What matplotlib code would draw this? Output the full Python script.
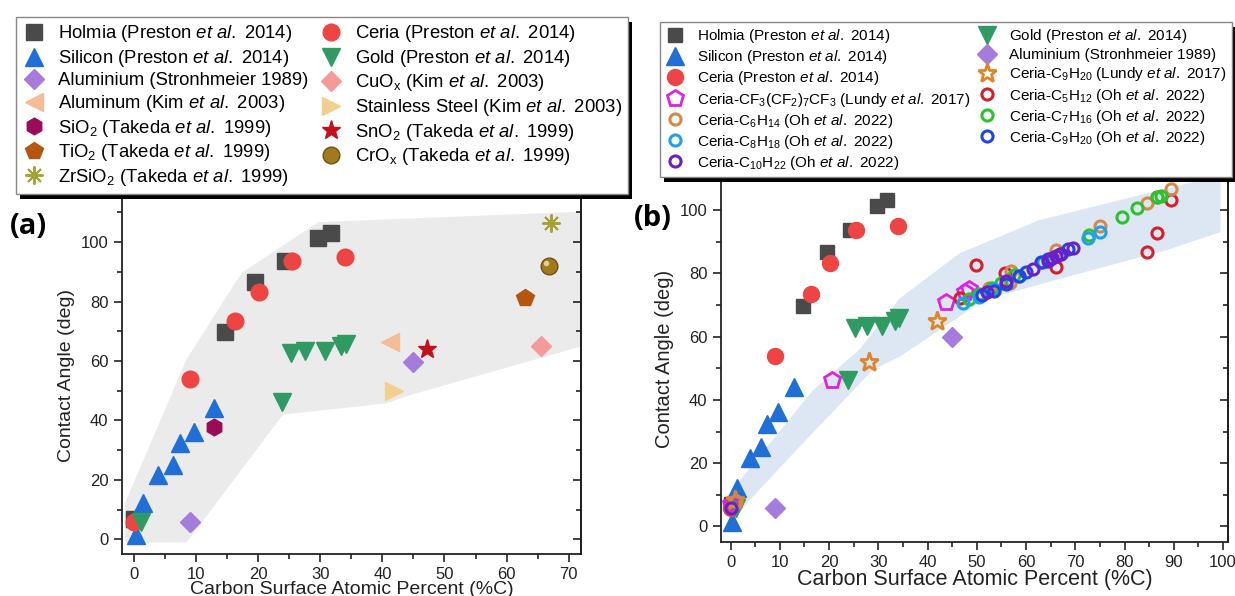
import matplotlib as mpl
mpl.use('Agg')
import matplotlib.pyplot as plt
from matplotlib.patches import Rectangle
from matplotlib.transforms import ScaledTranslation

plt.rcParams['font.family'] = ['Liberation Sans', 'DejaVu Sans']
plt.rcParams['mathtext.fontset'] = 'custom'
plt.rcParams['mathtext.rm'] = 'Liberation Sans'
plt.rcParams['mathtext.it'] = 'Liberation Sans:italic'
plt.rcParams['mathtext.bf'] = 'Liberation Sans:bold'
plt.rcParams['mathtext.default'] = 'regular'

# ---- data (x = carbon %, y = contact angle) ----
holmia_x = [0, 14.7, 19.5, 24.3, 29.7, 31.8]
holmia_y = [7.0, 69.6, 86.7, 93.7, 101.3, 103.0]
ceria_x = [0, 9.0, 16.3, 20.1, 25.4, 33.9]
ceria_y = [5.9, 54.0, 73.3, 83.2, 93.8, 94.9]
silicon_x = [0.3, 1.4, 3.9, 6.2, 7.4, 9.7, 12.8]
silicon_y = [1.4, 12.1, 21.6, 25.0, 32.3, 36.2, 44.1]
gold_x = [1.1, 23.8, 25.2, 27.6, 30.8, 33.3, 34.2]
gold_y = [5.9, 46.3, 62.8, 63.2, 63.5, 65.0, 65.8]
alu_strohm_x = [9.0, 45.0]
alu_strohm_y = [5.9, 59.8]
alu_kim_x = [41.3]
alu_kim_y = [66.5]
steel_x = [41.8]
steel_y = [49.9]
sno2_x = [47.2]
sno2_y = [64.0]
cuox_x = [65.6]
cuox_y = [64.9]
tio2_x = [62.9]
tio2_y = [81.3]
crox_x = [66.8]
crox_y = [92.0]
zrsio2_x = [67.2]
zrsio2_y = [106.4]
sio2_x = [12.9]
sio2_y = [37.9]

lundy_cf_x = [0, 20.6, 43.8, 47.5, 48.5]
lundy_cf_y = [7.2, 46.3, 71.0, 74.2, 75.0]
lundy_c9_x = [0.8, 28.1, 41.9]
lundy_c9_y = [8.4, 52.1, 65.0]
oh_c5_x = [46.5, 49.8, 55.7, 66.0, 84.6, 86.6, 89.4]
oh_c5_y = [72.3, 82.6, 80.2, 82.0, 86.8, 92.6, 103.0]
oh_c6_x = [1.0, 52.5, 56.7, 57.0, 66.0, 75.0, 84.6, 86.6, 89.4]
oh_c6_y = [8.0, 75.5, 77.0, 80.8, 87.4, 94.9, 102.1, 104.0, 106.6]
oh_c7_x = [48.5, 50.5, 53.0, 55.0, 57.5, 72.8, 79.5, 82.6, 86.5, 87.4]
oh_c7_y = [72.0, 73.5, 75.5, 77.0, 79.5, 92.0, 97.8, 100.5, 104.0, 104.4]
oh_c8_x = [47.2, 50.5, 53.5, 58.5, 63.5, 72.6, 75.0]
oh_c8_y = [70.5, 72.5, 75.0, 79.0, 83.5, 91.2, 93.2]
oh_c9_x = [51.0, 53.5, 56.0, 58.5, 60.0, 63.0, 64.5, 67.0, 68.6]
oh_c9_y = [73.0, 74.5, 76.5, 79.0, 80.5, 83.5, 84.5, 86.2, 87.8]
oh_c10_x = [0, 52.0, 56.0, 61.5, 64.5, 65.3, 66.0, 66.8, 69.5]
oh_c10_y = [5.8, 74.0, 77.5, 81.5, 84.0, 84.8, 85.4, 86.2, 88.0]

# shaded envelopes
band_a_x = [-1.5, 8.5, 24.0, 40.5, 44.6, 72.5, 72.5, 29.7, 17.3, 8.4, -1.5]
band_a_y = [-1.0, -1.0, 42.0, 45.7, 48.6, 65.2, 110.3, 106.7, 89.6, 60.4, 12.0]
band_b_x = [-1.0, 16.7, 26.2, 34.3, 46.5, 62.7, 99.5, 99.5, 88.5, 68.2, 51.2,
            46.5, 34.3, 28.9, 14.0, 3.9, 0.5]
band_b_y = [9.0, 43.0, 56.0, 72.0, 86.3, 96.8, 111.0, 93.0, 87.3, 78.8, 71.5,
            66.3, 53.6, 49.5, 25.2, 8.4, 1.5]

ETAL = r'$\mathit{et\ al.}$'

fig = plt.figure(figsize=(12.35, 5.96), dpi=100)
ax_a = fig.add_axes([0.0985, 0.0701, 0.3720, 0.5985])
ax_b = fig.add_axes([0.5836, 0.0901, 0.4107, 0.6160])


def style_axes(ax, xlim, ylim, lab_fs, tick_fs, xlab_fs):
    ax.set_xlim(*xlim)
    ax.set_ylim(*ylim)
    ax.set_xticks(range(0, int(xlim[1]) + 1, 10))
    ax.set_xticks(range(5, int(xlim[1]) + 1, 10), minor=True)
    ax.set_yticks(range(0, 101, 20))
    ax.set_yticks(range(10, int(ylim[1]) + 1, 20), minor=True)
    ax.tick_params(which='major', direction='out', length=6, width=1.2,
                   labelsize=tick_fs, color='#222222', labelcolor='#222222')
    ax.tick_params(which='minor', direction='out', length=3.5, width=1.2,
                   color='#222222')
    for s in ax.spines.values():
        s.set_linewidth(1.3)
        s.set_color('#222222')
    ax.set_xlabel('Carbon Surface Atomic Percent (%C)', fontsize=xlab_fs,
                  labelpad=-1, color='#222222')
    ax.set_ylabel('Contact Angle (deg)', fontsize=lab_fs, labelpad=4,
                  color='#222222')
    sec = ax.secondary_yaxis('right')
    sec.set_yticks(range(0, 101, 20))
    sec.set_yticks(range(10, int(ylim[1]) + 1, 10), minor=True)
    sec.tick_params(which='both', direction='in', labelright=False,
                    width=1.2, color='#222222')
    sec.tick_params(which='major', length=6)
    sec.tick_params(which='minor', length=3.5)
    sec.spines['right'].set_linewidth(1.3)


# ---------------- panel (a) ----------------
ax = ax_a
ax.fill(band_a_x, band_a_y, color='#EBEBEB', lw=0, zorder=0)
h_holmia, = ax.plot(holmia_x, holmia_y, 's', color='#4A4A4A', ms=11,
                    label='Holmia (Preston ' + ETAL + ' 2014)')
h_si, = ax.plot(silicon_x, silicon_y, '^', color='#1F6FD6', ms=13,
                label='Silicon (Preston ' + ETAL + ' 2014)')
h_alu, = ax.plot(alu_strohm_x, alu_strohm_y, 'D', color='#A57BDB', ms=10,
                 label='Aluminium (Stronhmeier 1989)')
h_alk, = ax.plot(alu_kim_x, alu_kim_y, '<', color='#F4BD97', ms=13,
                 label='Aluminum (Kim ' + ETAL + ' 2003)')
h_sio2, = ax.plot(sio2_x, sio2_y, 'h', color='#9A0C58', ms=12,
                  label='SiO$_2$ (Takeda ' + ETAL + ' 1999)')
h_tio2, = ax.plot(tio2_x, tio2_y, 'p', color='#B4560F', ms=13,
                  label='TiO$_2$ (Takeda ' + ETAL + ' 1999)')
h_zr, = ax.plot(zrsio2_x, zrsio2_y, marker=(8, 2, 0), ls='none',
                color='#A4A232', ms=13, mew=1.4,
                label='ZrSiO$_2$ (Takeda ' + ETAL + ' 1999)')
h_ceria, = ax.plot(ceria_x, ceria_y, 'o', color='#EE4444', ms=12,
                   label='Ceria (Preston ' + ETAL + ' 2014)')
h_gold, = ax.plot(gold_x, gold_y, 'v', color='#2F9B62', ms=13,
                  label='Gold (Preston ' + ETAL + ' 2014)')
h_cuox, = ax.plot(cuox_x, cuox_y, 'D', color='#F49A9A', ms=10,
                  label='CuO$_x$ (Kim ' + ETAL + ' 2003)')
h_steel, = ax.plot(steel_x, steel_y, '>', color='#F2CF8E', ms=13,
                   label='Stainless Steel (Kim ' + ETAL + ' 2003)')
h_sno2, = ax.plot(sno2_x, sno2_y, '*', color='#C2101C', ms=14,
                  label='SnO$_2$ (Takeda ' + ETAL + ' 1999)')
h_crox, = ax.plot(crox_x, crox_y, 'o', color='#A07A1C', mec='#6E520E',
                  ms=12, label='CrO$_x$ (Takeda ' + ETAL + ' 1999)')
ax.plot(crox_x, crox_y, 'o', color='#E6CF8A', ms=4, mew=0,
        transform=ax.transData + ScaledTranslation(-2 / 72, 2 / 72,
                                                   fig.dpi_scale_trans))
style_axes(ax, (-2, 72), (-5, 115), 14, 12, 14)

hand_a = [h_holmia, h_si, h_alu, h_alk, h_sio2, h_tio2, h_zr,
          h_ceria, h_gold, h_cuox, h_steel, h_sno2, h_crox]
leg_a = fig.legend(handles=hand_a, loc='upper left', ncol=2,
                   bbox_to_anchor=(16 / 1235, 1 - 17 / 596), fontsize=13.3,
                   frameon=True, fancybox=False, edgecolor='#888888',
                   framealpha=1, labelspacing=0.19, handlelength=1.2,
                   handletextpad=0.7, columnspacing=0.63, borderpad=0.35,
                   borderaxespad=0, numpoints=1)

# ---------------- panel (b) ----------------
ax = ax_b
ax.fill(band_b_x, band_b_y, color='#DCE7F3', lw=0, zorder=0)
b_holmia, = ax.plot(holmia_x, holmia_y, 's', color='#4A4A4A', ms=10.5,
                    label='Holmia (Preston ' + ETAL + ' 2014)')
b_si, = ax.plot(silicon_x, silicon_y, '^', color='#1F6FD6', ms=13,
                label='Silicon (Preston ' + ETAL + ' 2014)')
b_ceria, = ax.plot(ceria_x, ceria_y, 'o', color='#EE4444', ms=11.5,
                   label='Ceria (Preston ' + ETAL + ' 2014)')
b_gold, = ax.plot(gold_x, gold_y, 'v', color='#2F9B62', ms=13,
                  label='Gold (Preston ' + ETAL + ' 2014)')
b_alu, = ax.plot(alu_strohm_x, alu_strohm_y, 'D', color='#A57BDB', ms=10,
                 label='Aluminium (Stronhmeier 1989)')
b_lcf, = ax.plot(lundy_cf_x, lundy_cf_y, 'p', mfc='none', mec='#DD22E6',
                 ms=12, mew=2,
                 label='Ceria-CF$_3$(CF$_2$)$_7$CF$_3$ (Lundy ' + ETAL + ' 2017)')
b_lc9, = ax.plot(lundy_c9_x, lundy_c9_y, '*', mfc='none', mec='#E08428',
                 ms=14, mew=2,
                 label='Ceria-C$_9$H$_{20}$ (Lundy ' + ETAL + ' 2017)')
oh = {}
for key, xs, ys, col, lab in [
        ('c5', oh_c5_x, oh_c5_y, '#D0222C', 'C$_5$H$_{12}$'),
        ('c6', oh_c6_x, oh_c6_y, '#D4894A', 'C$_6$H$_{14}$'),
        ('c7', oh_c7_x, oh_c7_y, '#2EC02E', 'C$_7$H$_{16}$'),
        ('c8', oh_c8_x, oh_c8_y, '#1FA2E6', 'C$_8$H$_{18}$'),
        ('c9', oh_c9_x, oh_c9_y, '#2344E0', 'C$_9$H$_{20}$'),
        ('c10', oh_c10_x, oh_c10_y, '#6A1FC8', 'C$_{10}$H$_{22}$')]:
    oh[key], = ax.plot(xs, ys, 'o', mfc='none', mec=col, ms=8, mew=2.2,
                       label='Ceria-' + lab + ' (Oh ' + ETAL + ' 2022)')
style_axes(ax, (-2, 101), (-5, 111), 14.5, 12, 15.5)

hand_b = [b_holmia, b_si, b_ceria, b_lcf, oh['c6'], oh['c8'], oh['c10'],
          b_gold, b_alu, b_lc9, oh['c5'], oh['c7'], oh['c9']]
leg_b = fig.legend(handles=hand_b, loc='upper left', ncol=2,
                   bbox_to_anchor=(660 / 1235, 1 - 22 / 596), fontsize=11,
                   frameon=True, fancybox=False, edgecolor='#888888',
                   framealpha=1, labelspacing=0.2, handlelength=1.3,
                   handletextpad=0.8, columnspacing=0.4, borderpad=0.35,
                   borderaxespad=0, numpoints=1)

fig.text(28 / 1235, 1 - 226 / 596, '(a)', fontsize=21, fontweight='bold',
         family='Open Sans', ha='center', va='center')
fig.text(653 / 1235, 1 - 218 / 596, '(b)', fontsize=21, fontweight='bold',
         family='Open Sans', ha='center', va='center')

# black drop shadow behind each legend box
fig.canvas.draw()
for leg in (leg_a, leg_b):
    bb = leg.get_frame().get_window_extent()
    fig.patches.append(Rectangle((bb.x0 + 4, bb.y0 - 5), bb.width, bb.height,
                                 transform=None, facecolor='black',
                                 edgecolor='none', zorder=4))

fig.savefig('out.png', dpi=100)
